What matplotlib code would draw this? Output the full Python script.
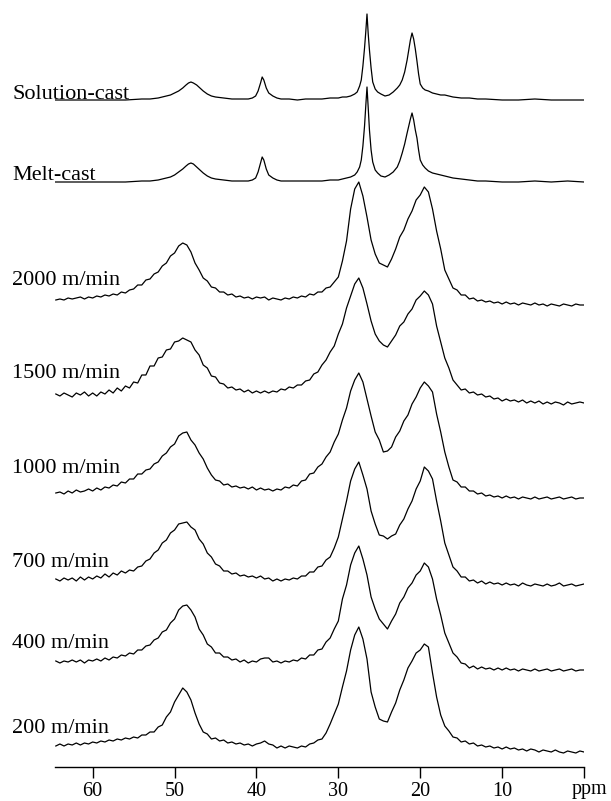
import numpy as np
import matplotlib
matplotlib.use('Agg')
import matplotlib.pyplot as plt
from matplotlib import transforms

plt.rcParams['font.family'] = ['Liberation Serif', 'DejaVu Serif']

# 13C CP/MAS spectra of the fibres, sampled every 0.5 ppm from 64.5 down to 0 ppm
fiber_ppm = np.linspace(64.5, 0.0, 130)

speed_2000 = [
    0, 1, 0, 2, 1, 2, 3, 1, 3, 2,
    4, 3, 5, 4, 6, 5, 8, 7, 10, 11,
    15, 15, 20, 21, 26, 28, 34, 37, 44, 47,
    54, 57, 55, 48, 37, 30, 22, 19, 13, 12,
    8, 8, 5, 6, 3, 4, 2, 3, 1, 3,
    2, 3, 0, 2, 1, 0, 2, 1, 3, 2,
    4, 3, 6, 5, 8, 8, 12, 13, 18, 23,
    39, 59, 91, 111, 118, 104, 83, 60, 46, 37,
    35, 33, 41, 51, 63, 70, 81, 89, 100, 105,
    113, 108, 91, 69, 51, 30, 21, 12, 10, 5,
    5, 1, 2, -1, 0, -2, -1, -3, -2, -4,
    -2, -4, -3, -5, -3, -4, -5, -3, -5, -4,
    -6, -4, -5, -6, -4, -5, -6, -4, -5, -5]

speed_1500 = [
    1, -1, 2, 0, -2, 2, 0, 3, -1, 2,
    -1, 3, 1, 5, 2, 7, 4, 9, 7, 13,
    12, 20, 20, 29, 29, 37, 38, 45, 46, 53,
    54, 57, 55, 53, 45, 40, 30, 27, 19, 18,
    12, 11, 7, 8, 5, 6, 3, 5, 2, 4,
    2, 4, 2, 4, 3, 6, 5, 8, 7, 10,
    10, 14, 15, 21, 23, 30, 35, 43, 49, 61,
    71, 87, 99, 111, 117, 107, 91, 74, 61, 54,
    50, 48, 54, 60, 69, 73, 81, 86, 95, 99,
    104, 100, 91, 69, 53, 37, 27, 15, 10, 5,
    6, 2, 3, 0, 1, -2, -1, -4, -3, -6,
    -4, -6, -5, -7, -5, -8, -6, -8, -6, -9,
    -7, -9, -7, -8, -10, -7, -9, -8, -7, -8]

speed_1000 = [
    0, 1, -1, 2, 0, 3, 1, 2, 4, 2,
    5, 3, 6, 5, 8, 7, 11, 10, 14, 14,
    19, 19, 23, 24, 29, 31, 37, 40, 46, 49,
    57, 60, 61, 53, 48, 40, 34, 25, 18, 13,
    12, 8, 9, 6, 7, 5, 6, 4, 6, 3,
    5, 3, 4, 2, 4, 3, 6, 5, 8, 7,
    12, 13, 19, 20, 26, 29, 36, 41, 51, 59,
    73, 85, 102, 113, 120, 111, 94, 77, 61, 53,
    41, 42, 46, 56, 62, 72, 78, 89, 96, 105,
    111, 107, 101, 79, 61, 41, 26, 13, 11, 6,
    6, 2, 2, -1, 0, -3, -2, -4, -3, -5,
    -3, -5, -4, -6, -4, -5, -6, -4, -6, -5,
    -4, -6, -5, -4, -6, -5, -4, -6, -5, -5]

speed_700 = [
    1, -1, 2, 0, 2, -1, 3, 0, 3, 1,
    4, 2, 6, 3, 7, 5, 9, 7, 10, 9,
    13, 14, 19, 21, 27, 30, 37, 40, 47, 50,
    56, 57, 58, 53, 50, 41, 36, 27, 23, 16,
    14, 9, 9, 6, 7, 4, 5, 3, 4, 2,
    4, 1, 2, -1, 1, -1, 1, 0, 2, 1,
    4, 4, 8, 8, 13, 14, 20, 23, 32, 43,
    61, 79, 99, 111, 118, 105, 91, 69, 56, 45,
    44, 41, 44, 46, 55, 61, 71, 79, 91, 99,
    113, 109, 101, 79, 59, 37, 25, 13, 9, 3,
    3, -1, 0, -3, -1, -4, -2, -4, -3, -5,
    -3, -5, -4, -6, -3, -5, -6, -4, -5, -6,
    -4, -6, -5, -3, -6, -5, -4, -6, -5, -4]

speed_400 = [
    1, -1, 1, 0, 2, 0, 2, -1, 2, 1,
    3, 1, 4, 2, 5, 4, 7, 6, 9, 8,
    12, 12, 16, 17, 22, 24, 30, 32, 39, 43,
    52, 56, 57, 52, 45, 33, 27, 18, 15, 9,
    9, 5, 5, 2, 3, 0, 2, -1, 1, 0,
    3, 4, 4, 0, 1, -1, 1, 0, 2, 1,
    4, 3, 7, 7, 12, 13, 20, 24, 33, 41,
    63, 77, 97, 109, 116, 103, 87, 65, 53, 43,
    38, 33, 41, 48, 59, 65, 74, 79, 87, 91,
    99, 95, 83, 63, 47, 29, 19, 9, 5, -1,
    -2, -6, -4, -7, -5, -7, -6, -8, -6, -8,
    -6, -8, -7, -9, -7, -8, -9, -7, -9, -8,
    -7, -9, -8, -7, -9, -8, -7, -9, -8, -8]

speed_200 = [
    0, 2, 0, 2, 1, 3, 1, 3, 2, 4,
    3, 5, 4, 6, 5, 7, 6, 8, 7, 9,
    8, 11, 11, 14, 14, 19, 21, 29, 34, 44,
    51, 58, 54, 46, 33, 22, 14, 12, 7, 8,
    5, 6, 3, 4, 2, 3, 1, 2, 0, 2,
    3, 5, 2, 1, -2, 0, -2, 0, -1, -2,
    0, -1, 2, 3, 6, 7, 13, 22, 32, 42,
    59, 75, 96, 111, 119, 107, 87, 54, 39, 27,
    25, 24, 34, 43, 56, 66, 78, 85, 93, 96,
    102, 99, 73, 49, 31, 20, 15, 9, 8, 4,
    5, 2, 3, 0, 1, -1, 0, -2, -1, -3,
    -1, -3, -2, -4, -3, -5, -3, -4, -6, -4,
    -5, -6, -4, -6, -7, -5, -6, -7, -5, -6]

# cast films have sharp lines, so they are sampled more densely around the peaks
cast_ppm = [
    64.6, 60, 56, 54, 53, 52, 51, 50.5, 50, 49.5,
    49, 48.6, 48.3, 48.0, 47.7, 47.3, 46.9, 46.5, 46, 45.5,
    45, 44, 43, 42, 41, 40.5, 40.1, 39.8, 39.5, 39.3,
    39.1, 38.8, 38.5, 38, 37.5, 37, 36, 35, 34, 33,
    32, 31, 30, 29.5, 29, 28.5, 28, 27.7, 27.4, 27.2,
    27.0, 26.8, 26.65, 26.5, 26.35, 26.2, 26.0, 25.8, 25.5, 25.2,
    24.8, 24.3, 23.8, 23.3, 22.8, 22.5, 22.2, 21.9, 21.6, 21.4,
    21.2, 21.0, 20.8, 20.6, 20.4, 20.2, 20.0, 19.7, 19.4, 19.0,
    18.5, 18.0, 17.5, 17.0, 16.0, 15.0, 14.0, 13.0, 12.0, 10.0,
    8.0, 6.0, 4.0, 2.0, 0.0]

solution_cast = [
    0, 0, 0, 1, 1, 2, 4, 5, 7, 9,
    12, 15, 17, 18, 17, 15, 12, 9, 6, 4,
    3, 2, 1, 1, 1, 2, 4, 9, 17, 23,
    20, 12, 7, 4, 2, 1, 1, 0, 1, 1,
    1, 2, 2, 3, 3, 4, 6, 8, 14, 20,
    34, 52, 68, 86, 66, 50, 32, 18, 11, 8,
    6, 4, 5, 8, 12, 15, 20, 28, 40, 50,
    60, 67, 61, 51, 39, 26, 16, 12, 10, 9,
    7, 6, 5, 5, 3, 2, 2, 1, 1, 0,
    0, 1, 0, 0, 0]

melt_cast = [
    0, 0, 0, 1, 1, 2, 4, 5, 7, 10,
    13, 16, 18, 19, 18, 15, 12, 9, 6, 4,
    3, 2, 1, 1, 1, 2, 4, 10, 19, 25,
    22, 13, 7, 4, 2, 1, 1, 1, 1, 1,
    1, 2, 2, 3, 4, 5, 7, 10, 15, 22,
    36, 56, 76, 95, 74, 52, 32, 20, 12, 9,
    6, 5, 7, 10, 15, 21, 29, 38, 49, 56,
    63, 69, 62, 52, 44, 32, 22, 17, 14, 11,
    9, 8, 7, 6, 4, 3, 2, 1, 1, 0,
    0, 1, 0, 1, 0]

labels = ['Solution-cast', 'Melt-cast', '2000 m/min', '1500 m/min',
          '1000 m/min', '700 m/min', '400 m/min', '200 m/min']
spectra = [(cast_ppm, solution_cast), (cast_ppm, melt_cast),
           (fiber_ppm, speed_2000), (fiber_ppm, speed_1500),
           (fiber_ppm, speed_1000), (fiber_ppm, speed_700),
           (fiber_ppm, speed_400), (fiber_ppm, speed_200)]

# vertical stacking of the traces and of their names
offsets = [667, 585, 467, 372, 274, 187, 105, 21]
label_y = [668, 587, 482, 389, 294, 200, 119, 34]

fig = plt.figure(figsize=(6.11, 8.01), dpi=100)
ax = fig.add_axes([55 / 611, 34 / 801, 529 / 611, 767 / 801])

for (ppm, values), off in zip(spectra, offsets):
    ax.plot(ppm, np.array(values) + off, color='black', lw=0.9)

name_trans = transforms.blended_transform_factory(fig.transFigure, ax.transData)
for name, y in zip(labels, label_y):
    ax.text(12 / 611, y, name, transform=name_trans, fontsize=16,
            ha='left', va='baseline', color='black')

ax.set_xlim(64.6, 0)
ax.set_ylim(0, 767)
for side in ['top', 'left', 'right']:
    ax.spines[side].set_visible(False)
ax.spines['bottom'].set_linewidth(1.0)
ax.set_yticks([])
ax.set_xticks([60, 50, 40, 30, 20, 10, 0])
ax.set_xticklabels(['60', '50', '40', '30', '20', '10', ''])
ax.tick_params(axis='x', direction='out', length=8, width=1.0,
               labelsize=14.5, pad=3)
ax.annotate('ppm', xy=(0, 0), xycoords=('data', 'axes fraction'),
            xytext=(-12, -27), textcoords='offset pixels',
            ha='left', va='baseline', fontsize=14.5)

fig.savefig('out.png', dpi=100)
